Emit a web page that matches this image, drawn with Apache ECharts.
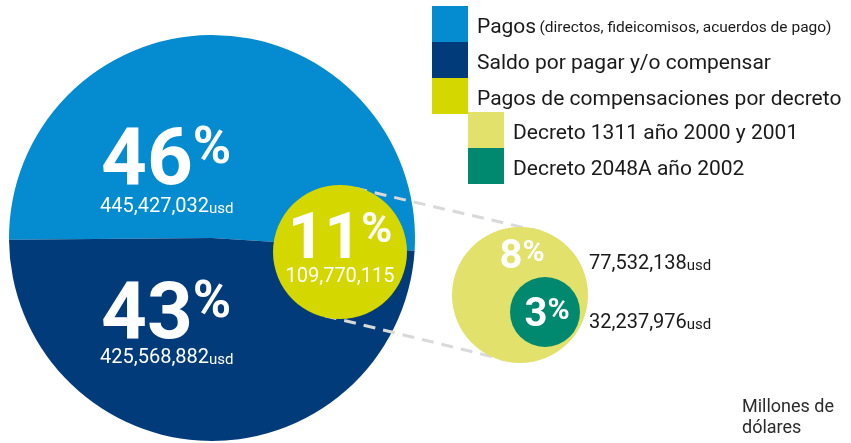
<!DOCTYPE html>
<html>
<head>
<meta charset="utf-8">
<script src="https://cdn.jsdelivr.net/npm/echarts@6/dist/echarts.min.js"></script>
<style>
  html, body { margin: 0; padding: 0; background: #fff; }
  #chart { width: 851px; height: 443px; }
</style>
</head>
<body>
<div id="chart"></div>
<script>
// values (usd)
const mainNames = ['Pagos', 'Saldo por pagar y/o compensar'];
const mainValues = [445427032, 425568882];
const mainPercents = [46, 43];

const decreeTotalName = 'Pagos de compensaciones por decreto';
const decreeTotalValue = 109770115;
const decreeTotalPercent = 11;

const decreeNames = ['Decreto 1311 año 2000 y 2001', 'Decreto 2048A año 2002'];
const decreeValues = [77532138, 32237976];
const decreePercents = [8, 3];

const pagosNote = '(directos, fideicomisos, acuerdos de pago)';
const unitNote = 'Millones de\ndólares';

const FONT = 'Roboto, "Noto Sans", sans-serif';
const COLORS = {
  pagos: '#058bd0',
  saldo: '#013b79',
  decreto: '#d4d700',
  d1311: '#e1e16b',
  d2048: '#00896f',
  dash: '#d9d9d9',
  text: '#1a1a1a'
};

// layout of the circles (pixels)
const bigPie = { center: [212, 238], radius: 203 };
const totalCircle = { center: [340, 252], radius: 67 };
const partCircle = { center: [520, 295], radius: 68 };
const innerCircle = { center: [545, 312], radius: 35 };

const fmt = (v) => v.toLocaleString('en-US');

const circleSeries = (name, value, color, geom, z) => ({
  type: 'pie',
  z: z,
  silent: true,
  center: geom.center,
  radius: geom.radius,
  label: { show: false },
  labelLine: { show: false },
  emphasis: { disabled: true },
  itemStyle: { color: color, borderWidth: 0 },
  data: [{ name: name, value: value }]
});

// big number with a raised, smaller "%" whose top lines up with the digits
const pctRich = (size, pctSize) => ({
  n: { fontSize: size, fontWeight: 'bold', fontFamily: FONT, fill: '#fff', lineHeight: size },
  p: {
    fontSize: pctSize, fontWeight: 'bold', fontFamily: FONT, fill: '#fff',
    lineHeight: Math.round(2 * (0.08 * size + 0.45 * pctSize)), verticalAlign: 'top'
  }
});

const valueRich = (color) => ({
  v: { fontSize: 20, fontFamily: FONT, fill: color, verticalAlign: 'bottom', lineHeight: 22 },
  u: { fontSize: 15, fontFamily: FONT, fill: color, verticalAlign: 'bottom', lineHeight: 19 }
});

const pctText = (x, y, p, size, pctSize, align) => ({
  type: 'text', x: x, y: y, z: 100,
  style: {
    text: '{n|' + p + '}{p|%}',
    rich: pctRich(size, pctSize),
    align: align || 'left',
    verticalAlign: 'top'
  }
});

const valueText = (x, y, v, color, unit) => ({
  type: 'text', x: x, y: y, z: 100,
  style: {
    text: '{v|' + fmt(v) + '}' + (unit ? '{u|usd}' : ''),
    rich: valueRich(color),
    align: 'left',
    verticalAlign: 'middle'
  }
});

// dashed connectors between the 11% circle and the breakdown circle
const connectorLines = () => {
  const [x1, y1] = totalCircle.center;
  const [x2, y2] = partCircle.center;
  const len = Math.hypot(x2 - x1, y2 - y1);
  const nx = (y2 - y1) / len;
  const ny = -(x2 - x1) / len;
  const lines = [];
  [1, -1].forEach((s) => {
    const r1 = totalCircle.radius - 1.5;
    const r2 = partCircle.radius - 1.5;
    lines.push({
      type: 'line', z: 3,
      shape: { x1: x1 + s * nx * r1, y1: y1 + s * ny * r1, x2: x2 + s * nx * r2, y2: y2 + s * ny * r2 },
      style: { stroke: COLORS.dash, lineWidth: 3, lineDash: [12, 8] }
    });
  });
  return lines;
};

const chart = echarts.init(document.getElementById('chart'));

const legendText = {
  a: { fontSize: 21, fontFamily: FONT, color: COLORS.text, padding: [8, 0, 0, 4] },
  b: { fontSize: 15.5, fontFamily: FONT, color: COLORS.text, padding: [8, 0, 0, 0] }
};

const option = {
  animation: false,
  legend: [
    {
      left: 432, top: 6, orient: 'vertical', padding: 0,
      itemWidth: 36, itemHeight: 36, itemGap: 0, icon: 'rect',
      selectedMode: false,
      data: [mainNames[0], mainNames[1], decreeTotalName],
      formatter: (name) => name === mainNames[0]
        ? '{a|' + name + '} {b|' + pagosNote + '}'
        : '{a|' + name + '}',
      textStyle: { rich: legendText }
    },
    {
      left: 468, top: 112, orient: 'vertical', padding: 0,
      itemWidth: 36, itemHeight: 36, itemGap: 0, icon: 'rect',
      selectedMode: false,
      data: decreeNames,
      formatter: (name) => '{a|' + name + '}',
      textStyle: { rich: legendText }
    }
  ],
  series: [
    {
      type: 'pie',
      z: 2,
      silent: true,
      center: bigPie.center,
      radius: bigPie.radius,
      startAngle: 180.5,
      clockwise: true,
      label: { show: false },
      labelLine: { show: false },
      emphasis: { disabled: true },
      itemStyle: { borderWidth: 0 },
      data: [
        { name: mainNames[0], value: mainValues[0], itemStyle: { color: COLORS.pagos } },
        { name: mainNames[1], value: mainValues[1], itemStyle: { color: COLORS.saldo } }
      ]
    },
    circleSeries(decreeTotalName, decreeTotalValue, COLORS.decreto, totalCircle, 5),
    circleSeries(decreeNames[0], decreeValues[0], COLORS.d1311, partCircle, 5),
    circleSeries(decreeNames[1], decreeValues[1], COLORS.d2048, innerCircle, 6)
  ],
  graphic: {
    elements: [
      ...connectorLines(),
      pctText(101, 124, mainPercents[0], 80, 52),
      valueText(100, 206, mainValues[0], '#fff', true),
      pctText(101, 278, mainPercents[1], 80, 52),
      valueText(100, 357, mainValues[1], '#fff', true),
      pctText(340, 210, decreeTotalPercent, 64, 42, 'center'),
      {
        type: 'text', x: 340, y: 277, z: 100,
        style: { text: fmt(decreeTotalValue), fontSize: 20, fontFamily: FONT, fill: '#fff', align: 'center', verticalAlign: 'middle' }
      },
      pctText(522, 238, decreePercents[0], 40, 30, 'center'),
      pctText(547, 296, decreePercents[1], 40, 30, 'center'),
      valueText(589, 263, decreeValues[0], COLORS.text, true),
      valueText(589, 322, decreeValues[1], COLORS.text, true),
      {
        type: 'text', x: 742, y: 397, z: 100,
        style: { text: unitNote, fontSize: 18, lineHeight: 21, fontFamily: FONT, fill: '#2b2b2b', align: 'left', verticalAlign: 'top' }
      }
    ]
  }
};

chart.setOption(option);
window.addEventListener('resize', () => chart.resize());
</script>
</body>
</html>
